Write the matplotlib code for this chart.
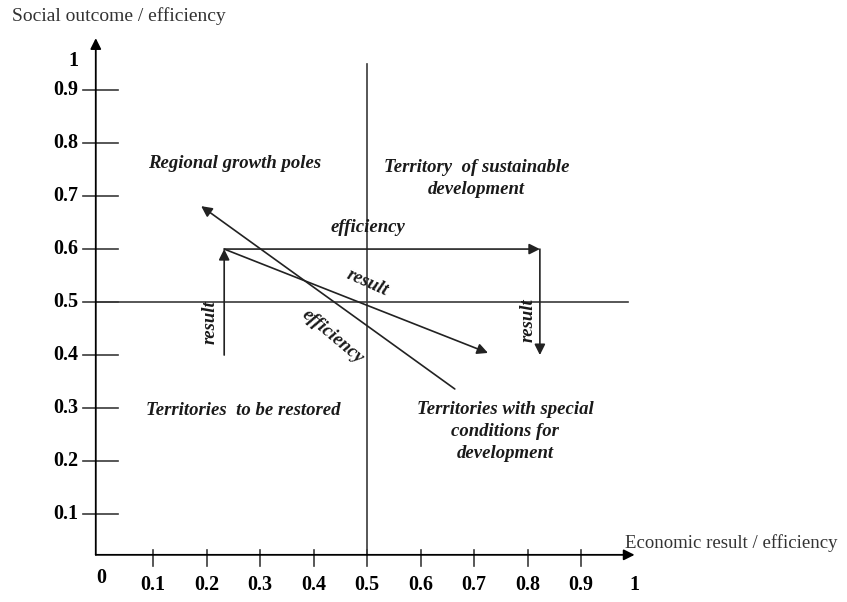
import matplotlib
matplotlib.use('Agg')
import matplotlib.pyplot as plt

# tick values and labels
x_ticks = [0.1, 0.2, 0.3, 0.4, 0.5, 0.6, 0.7, 0.8, 0.9]
x_labels = ['0.1', '0.2', '0.3', '0.4', '0.5', '0.6', '0.7', '0.8', '0.9', '1']
x_label_pos = [0.1, 0.2, 0.3, 0.4, 0.5, 0.6, 0.7, 0.8, 0.9, 1.0]
y_ticks = [0.1, 0.2, 0.3, 0.4, 0.5, 0.6, 0.7, 0.8, 0.9]
y_labels = ['0.1', '0.2', '0.3', '0.4', '0.5', '0.6', '0.7', '0.8', '0.9', '1']
y_label_pos = [0.1, 0.2, 0.3, 0.4, 0.5, 0.6, 0.7, 0.8, 0.9, 0.955]

# quadrant split
mid_x = 0.5
mid_y = 0.5

# arrows (start, end)
arrow_up = ((0.233, 0.40), (0.233, 0.60))
arrow_right = ((0.233, 0.60), (0.823, 0.60))
arrow_down = ((0.823, 0.60), (0.823, 0.40))
arrow_result = ((0.233, 0.60), (0.726, 0.404))
arrow_eff = ((0.664, 0.336), (0.19, 0.681))

quadrant_names = ['Regional growth poles', 'Territory  of sustainable\ndevelopment',
                  'Territories  to be restored', 'Territories with special\nconditions for\ndevelopment']

axis_y0 = 0.023
line_col = '#3a3a3a'
serif = 'Liberation Serif'

fig = plt.figure(figsize=(8.47, 6.02), dpi=100)
ax = fig.add_axes([0, 0, 1, 1])
ax.set_xlim(-0.186, 1.397)
ax.set_ylim(-0.066, 1.070)
ax.axis('off')

# main axes with arrow heads
ax.annotate('', xy=(1.0, axis_y0), xytext=(-0.007, axis_y0),
            arrowprops=dict(arrowstyle='-|>', color='black', lw=1.3, mutation_scale=16, shrinkA=0, shrinkB=0))
ax.annotate('', xy=(-0.007, 0.998), xytext=(-0.007, axis_y0),
            arrowprops=dict(arrowstyle='-|>', color='black', lw=1.3, mutation_scale=16, shrinkA=0, shrinkB=0))

# ticks
for t in x_ticks:
    ax.plot([t, t], [axis_y0 - 0.022, axis_y0 + 0.01], color=line_col, lw=1.2)
for t in y_ticks:
    ax.plot([-0.03, 0.035], [t, t], color=line_col, lw=1.2)

for lab, p in zip(x_labels, x_label_pos):
    ax.text(p, -0.034, lab, ha='center', va='center', fontsize=14.5, fontweight='bold', family=serif)
ax.text(0.003, -0.02, '0', ha='center', va='center', fontsize=14.5, fontweight='bold', family=serif)
for lab, p in zip(y_labels, y_label_pos):
    ax.text(-0.04, p, lab, ha='right', va='center', fontsize=14.5, fontweight='bold', family=serif)

ax.text(-0.163, 1.04, 'Social outcome / efficiency', ha='left', va='center', fontsize=14,
        family=serif, color='#333333')
ax.text(0.982, 0.045, 'Economic result / efficiency', ha='left', va='center', fontsize=13.5,
        family=serif, color='#333333')

# quadrant lines
ax.plot([mid_x, mid_x], [axis_y0, 0.95], color=line_col, lw=1.2)
ax.plot([-0.007, 0.988], [mid_y, mid_y], color=line_col, lw=1.2)

for (s, e) in [arrow_up, arrow_right, arrow_down, arrow_result, arrow_eff]:
    ax.annotate('', xy=e, xytext=s,
                arrowprops=dict(arrowstyle='-|>', color='#222222', lw=1.2, mutation_scale=16,
                                shrinkA=0, shrinkB=0))

txt = dict(fontsize=13.5, fontweight='bold', style='italic', family=serif, color='#1a1a1a')
ax.text(0.091, 0.762, quadrant_names[0], ha='left', va='center', **txt)
ax.text(0.705, 0.733, quadrant_names[1], ha='center', va='center', multialignment='center',
        linespacing=1.35, **txt)
ax.text(0.268, 0.296, quadrant_names[2], ha='center', va='center', **txt)
ax.text(0.758, 0.256, quadrant_names[3], ha='center', va='center', multialignment='center',
        linespacing=1.38, **txt)

ax.text(0.502, 0.64, 'efficiency', ha='center', va='center', **txt)
ax.text(0.5, 0.536, 'result', ha='center', va='center', rotation=-24, **txt)
ax.text(0.436, 0.434, 'efficiency', ha='center', va='center', rotation=-40, **txt)
ax.text(0.207, 0.462, 'result', ha='center', va='center', rotation=90, **txt)
ax.text(0.801, 0.466, 'result', ha='center', va='center', rotation=90, **txt)

fig.savefig('out.png', dpi=100)
